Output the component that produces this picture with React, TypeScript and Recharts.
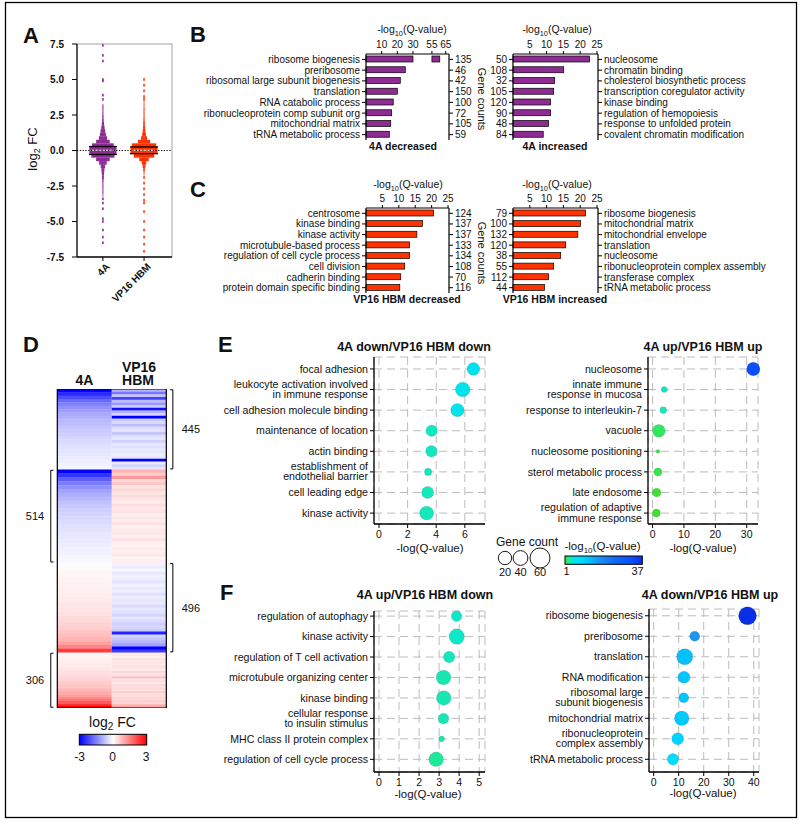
import React from 'react';
import {
  BarChart,
  Bar,
  XAxis,
  YAxis,
  ScatterChart,
  Scatter,
  CartesianGrid,
  ComposedChart,
  ReferenceArea,
  ReferenceLine,
} from 'recharts';

const FONT = '"Liberation Sans", Arial, Helvetica, sans-serif';
const PURPLE = '#8e2c93';
const RED = '#ff3300';

// ---- A: log2 FC distributions (violins as binned densities)
const violinGroups = ['4A', 'VP16 HBM'];
const violinFill = [PURPLE, RED];
const aTicks = [7.5, 5, 2.5, 0, -2.5, -5, -7.5];
const binCenters = [
  3.375, 3.125, 2.875, 2.625, 2.375, 2.125, 1.875, 1.625, 1.375, 1.125, 0.875, 0.625, 0.375, 0.125,
  -0.125, -0.375, -0.625, -0.875, -1.125, -1.375, -1.625, -1.875, -2.125, -2.375, -2.625, -2.875, -3.125, -3.375,
];
const density4A = [
  0, 0.04, 0.04, 0.04, 0.05, 0.06, 0.08, 0.12, 0.17, 0.22, 0.3, 0.5, 0.8, 1.0,
  1.0, 0.85, 0.5, 0.28, 0.16, 0.11, 0.08, 0.07, 0.05, 0.04, 0.04, 0.04, 0.03, 0,
];
const densityVP16 = [
  0.03, 0.03, 0.04, 0.04, 0.04, 0.05, 0.06, 0.07, 0.1, 0.14, 0.22, 0.45, 0.9, 1.0,
  1.0, 0.75, 0.35, 0.16, 0.1, 0.06, 0.03, 0, 0, 0, 0, 0, 0, 0,
];
const outliers4A = [7.4, 6.7, 6.3, 5.0, 4.9, 3.9, 3.6, -3.4, -3.7, -4.1, -4.8, -5.0, -5.6, -6.1, -6.5];
const outliersVP16 = [5.0, 4.6, 4.2, 3.8, 3.6, -1.9, -2.3, -2.7, -3.1, -3.5, -3.7, -4.3, -5.0, -5.6, -6.1, -6.6, -7.1];
const quartiles4A = [0.28, -0.28];
const quartilesVP16 = [0.25, -0.22];
const medians = [0.02, 0.02];

// ---- B / C: GO term bars
const qTicks25 = [5, 10, 15, 20, 25];
const qTicksBroken = [10, 20, 30, 55, 65];
const BREAK_LO = 30;
const BREAK_HI = 55;

const b4aDownTerms = [
  'ribosome biogenesis', 'preribosome', 'ribosomal large subunit biogenesis', 'translation',
  'RNA catabolic process', 'ribonucleoprotein comp subunit org', 'mitochondrial matrix', 'tRNA metabolic process',
];
const b4aDownQ = [60.7, 25.1, 21.9, 20.0, 17.4, 16.4, 15.8, 14.9];
const b4aDownCounts = [135, 46, 42, 150, 100, 72, 105, 59];

const b4aUpTerms = [
  'nucleosome', 'chromatin binding', 'cholesterol biosynthetic process', 'transcription coregulator activity',
  'kinase binding', 'regulation of hemopoiesis', 'response to unfolded protein', 'covalent chromatin modification',
];
const b4aUpQ = [22.8, 15.1, 12.4, 12.1, 11.2, 11.2, 10.6, 9.0];
const b4aUpCounts = [50, 108, 32, 105, 120, 90, 48, 84];

const cVpDownTerms = [
  'centrosome', 'kinase binding', 'kinase activity', 'microtubule-based process',
  'regulation of cell cycle process', 'cell division', 'cadherin binding', 'protein domain specific binding',
];
const cVpDownQ = [20.6, 17.2, 15.5, 13.3, 13.3, 11.8, 10.6, 10.3];
const cVpDownCounts = [124, 137, 137, 133, 134, 108, 70, 116];

const cVpUpTerms = [
  'ribosome biogenesis', 'mitochondrial matrix', 'mitochondrial envelope', 'translation',
  'nucleosome', 'ribonucleoprotein complex assembly', 'transferase complex', 'tRNA metabolic process',
];
const cVpUpQ = [21.6, 20.1, 19.3, 15.7, 14.2, 12.1, 10.6, 9.4];
const cVpUpCounts = [79, 100, 132, 120, 38, 55, 112, 44];

// ---- D: heatmap, binned per cluster
const sectionSizes = [445, 514, 496, 306];
const sectionSide = ['right', 'left', 'right', 'left'];
const heat4A = [
  [-3, -2.5, -2.1, -1.75, -1.5, -1.3, -1.15, -1.02, -0.92, -0.83, -0.75, -0.68, -0.62, -0.56, -0.5, -0.45, -0.4, -0.36, -0.32, -0.28, -0.24, -0.2, -0.16, -0.12],
  [-3, -2.4, -1.9, -1.55, -1.3, -1.1, -0.95, -0.83, -0.73, -0.65, -0.58, -0.52, -0.47, -0.42, -0.38, -0.34, -0.3, -0.27, -0.24, -0.21, -0.18, -0.15, -0.12, -0.09],
  [0.05, 0.07, 0.09, 0.11, 0.13, 0.15, 0.17, 0.19, 0.21, 0.24, 0.27, 0.3, 0.33, 0.37, 0.41, 0.46, 0.52, 0.59, 0.67, 0.77, 0.9, 1.1, 1.45, 2.3],
  [0.1, 0.13, 0.16, 0.19, 0.22, 0.25, 0.28, 0.32, 0.36, 0.4, 0.45, 0.5, 0.56, 0.62, 0.7, 0.78, 0.88, 1.0, 1.15, 1.35, 1.6, 1.95, 2.4, 3],
];
const heatVP16 = [
  [-0.9, -1.6, -0.7, -2.2, -0.8, -1.2, -0.6, -2.8, -0.9, -0.5, -3, -0.6, -0.45, -0.8, -0.4, -0.35, -0.7, -0.4, -0.3, -0.55, -0.3, -0.35, -0.25, -0.3, -0.2, -0.3, -3, -0.25, -0.5, -0.3],
  [0.9, 0.55, 1.2, 0.45, 0.7, 0.35, 0.5, 0.3, 0.45, 0.3, 0.25, 0.4, 0.25, 0.35, 0.2, 0.3, 0.2, 0.35, 0.18, 0.25, 0.3, 0.18, 0.35, 0.2, 0.15, 0.25, 0.18, 0.3, 0.12, 0.2],
  [-0.15, -0.22, -0.1, -0.28, -0.15, -0.22, -0.32, -0.15, -0.25, -0.2, -0.38, -0.2, -0.3, -0.25, -0.42, -0.3, -0.35, -0.5, -0.3, -0.42, -0.55, -0.45, -0.6, -2.6, -0.5, -0.7, -0.85, -1.1, -3, -2.3],
  [0.22, 0.32, 0.15, 0.38, 0.25, 0.32, 0.2, 0.42, 0.3, 0.25, 0.5, 0.3, 0.35, 0.8, 0.3, 0.42, 0.25, 0.48, 0.35, 0.5, 0.3, 0.62, 0.4, 0.35, 0.52, 0.45, 0.62, 0.5, 0.95, 1.3],
];

// ---- E / F: bubble plots
const eDownTerms = [
  'focal adhesion', 'leukocyte activation involved\nin immune response', 'cell adhesion molecule binding',
  'maintenance of location', 'actin binding', 'establishment of\nendothelial barrier', 'cell leading edge', 'kinase activity',
];
const eDownQ = [6.6, 5.85, 5.48, 3.68, 3.66, 3.43, 3.4, 3.33];
const eDownCounts = [33, 44, 37, 27, 27, 11, 30, 40];

const eUpTerms = [
  'nucleosome', 'innate immune\nresponse in mucosa', 'response to interleukin-7', 'vacuole',
  'nucleosome positioning', 'sterol metabolic process', 'late endosome', 'regulation of adaptive\nimmune response',
];
const eUpQ = [32.1, 3.7, 3.4, 2.0, 1.7, 1.7, 1.3, 1.2];
const eUpCounts = [37, 7, 9, 33, 3, 13, 15, 13];

const fUpDownTerms = [
  'regulation of autophagy', 'kinase activity', 'regulation of T cell activation', 'microtubule organizing center',
  'kinase binding', 'cellular response\nto insulin stimulus', 'MHC class II protein complex', 'regulation of cell cycle process',
];
const fUpDownQ = [3.87, 3.88, 3.5, 3.22, 3.23, 3.22, 3.12, 2.85];
const fUpDownCounts = [23, 49, 27, 44, 44, 23, 7, 44];

const fDownUpTerms = [
  'ribosome biogenesis', 'preribosome', 'translation', 'RNA modification', 'ribosomal large\nsubunit biogenesis',
  'mitochondrial matrix', 'ribonucleoprotein\ncomplex assembly', 'tRNA metabolic process',
];
const fDownUpQ = [37.5, 16.4, 12.4, 12.1, 12.0, 11.2, 9.6, 7.7];
const fDownUpCounts = [67, 21, 53, 30, 21, 44, 30, 27];

const legendCounts = [20, 40, 60];

// colour scale for -log10(Q)
const Q_STOPS: [number, string][] = [
  [1, '#44e01e'], [2, '#2ee860'], [3.3, '#16e8b8'], [5, '#00e6e6'], [8, '#00dcff'],
  [12, '#00c6ff'], [16, '#1a98f2'], [25, '#1464f6'], [32, '#0a50ff'], [37, '#0a2ee6'],
];

function hexToRgb(h: string) {
  return [1, 3, 5].map((i) => parseInt(h.slice(i, i + 2), 16));
}

function qColor(v: number) {
  if (v <= Q_STOPS[0][0]) return Q_STOPS[0][1];
  for (let i = 1; i < Q_STOPS.length; i++) {
    const [v1, c1] = Q_STOPS[i];
    const [v0, c0] = Q_STOPS[i - 1];
    if (v <= v1) {
      const t = (v - v0) / (v1 - v0);
      const a = hexToRgb(c0);
      const b = hexToRgb(c1);
      const m = a.map((x, k) => Math.round(x + (b[k] - x) * t));
      return `rgb(${m[0]},${m[1]},${m[2]})`;
    }
  }
  return Q_STOPS[Q_STOPS.length - 1][1];
}

function heatColor(v: number) {
  const t = Math.min(1, Math.abs(v) / 3);
  const c = Math.round(255 * (1 - t));
  return v < 0 ? `rgb(${c},${c},255)` : `rgb(255,${c},${c})`;
}

const bubbleR = (count: number) => Math.sqrt(count) * 1.1;

const breakAxis = (v: number) => (v <= BREAK_LO ? v : 42.1 + (v - BREAK_HI) * 0.88);
const identity = (v: number) => v;

function PlainTick(props: any) {
  const { x, y, payload, anchor = 'end', size = 10, dy = 3.5, bold = false, fmt } = props;
  const v = fmt ? fmt(payload.value) : payload.value;
  return (
    <text x={x} y={y} dy={dy} textAnchor={anchor} fontSize={size} fontWeight={bold ? 'bold' : 'normal'} fontFamily={FONT} fill="#111">
      {v}
    </text>
  );
}

function TermTick(props: any) {
  const { x, y, payload, terms, size } = props;
  const label = terms[payload.value] ?? '';
  const lines = String(label).split('\n');
  const first = lines.length === 1 ? size * 0.35 : -size * 0.15;
  return (
    <text x={x} y={y} textAnchor="end" fontSize={size} fontFamily={FONT} fill="#111">
      {lines.map((l, i) => (
        <tspan key={i} x={x} dy={i === 0 ? first : size * 0.95}>
          {l}
        </tspan>
      ))}
    </text>
  );
}

function PanelA() {
  const groups = [
    { d: density4A, out: outliers4A, q: quartiles4A },
    { d: densityVP16, out: outliersVP16, q: quartilesVP16 },
  ];
  const HALF = 0.33;
  const outlierPts = groups.flatMap((g, gi) => g.out.map((v) => ({ x: gi, y: v, gi })));
  const axis = { stroke: '#000', strokeWidth: 1.3 };
  return (
    <div style={{ position: 'absolute', left: 40, top: 38 }}>
      <ComposedChart width={136} height={269} margin={{ top: 6, right: 4, bottom: 0, left: 0 }}>
        <XAxis
          type="number"
          dataKey="x"
          domain={[-0.63, 1.68]}
          ticks={[0, 1]}
          interval={0}
          height={50}
          tickSize={4}
          axisLine={axis}
          tickLine={{ stroke: '#000' }}
          tick={(p: any) => (
            <text
              transform={`translate(${p.x + 5},${p.y + 2}) rotate(-45)`}
              textAnchor="end"
              dy="0.35em"
              fontSize={10}
              fontWeight="bold"
              fontFamily={FONT}
              fill="#111"
            >
              {violinGroups[p.payload.value]}
            </text>
          )}
        />
        <YAxis
          type="number"
          dataKey="y"
          domain={[-7.5, 7.5]}
          ticks={aTicks}
          interval={0}
          width={37}
          tickSize={5}
          tickMargin={8}
          axisLine={axis}
          tickLine={{ stroke: '#000' }}
          tick={(p: any) => (
            <PlainTick x={p.x} y={p.y} payload={p.payload} anchor="end" size={10} bold fmt={(v: number) => v.toFixed(1)} />
          )}
        />
        <ReferenceLine y={7.5} stroke="#a0a0a0" />
        <ReferenceLine x={1.68} stroke="#a0a0a0" />
        <ReferenceLine y={0} stroke="#000" strokeDasharray="1.2 1.6" />
        {groups.flatMap((g, gi) =>
          binCenters.map((c, bi) =>
            g.d[bi] > 0 ? (
              <ReferenceArea
                key={`v${gi}-${bi}`}
                x1={gi - g.d[bi] * HALF}
                x2={gi + g.d[bi] * HALF}
                y1={c - 0.13}
                y2={c + 0.13}
                fill={violinFill[gi]}
                fillOpacity={1}
                stroke="none"
              />
            ) : null,
          ),
        )}
        <Scatter
          data={outlierPts}
          isAnimationActive={false}
          shape={(p: any) => (
            <rect x={p.cx - 0.8} y={p.cy - 1.3} width={1.6} height={2.6} fill={violinFill[p.payload.gi]} />
          )}
        />
        {groups.flatMap((g, gi) =>
          g.q.map((v, k) => (
            <ReferenceLine
              key={`q${gi}-${k}`}
              segment={[{ x: gi - 0.34, y: v }, { x: gi + 0.34, y: v }]}
              stroke="#000"
              strokeWidth={1.3}
            />
          )),
        )}
        {medians.map((m, gi) => (
          <ReferenceLine
            key={`m${gi}`}
            segment={[{ x: gi - 0.26, y: m }, { x: gi + 0.26, y: m }]}
            stroke="#fff"
            strokeWidth={1}
            strokeDasharray="2 1.5"
          />
        ))}
      </ComposedChart>
    </div>
  );
}

function GoBars(props: any) {
  const { x, y, terms, q, counts, fill, termsLeft, plotH, xMax, ticks, toAxis } = props;
  const termW = termsLeft ? 180 : 195;
  const countW = termsLeft ? 32 : 30;
  const plotW = termsLeft ? 83 : 85;
  const rows = terms.map((t: string, i: number) => ({ term: t, count: counts[i], raw: q[i], value: toAxis(q[i]) }));
  const axisTicks = ticks.map(toAxis);
  const line = { stroke: '#000', strokeWidth: 1.2 };
  const catTick = (anchor: string) => (p: any) => (
    <PlainTick x={p.x} y={p.y} payload={p.payload} anchor={anchor} size={10} dy={3.5} />
  );
  const barShape = (p: any) => {
    const { x: bx, y: by, width, height, payload } = p;
    const broken = toAxis(BREAK_HI) !== BREAK_HI && payload.raw > BREAK_LO;
    if (!broken) {
      return <rect x={bx} y={by} width={width} height={height} fill={fill} stroke="#000" strokeWidth={0.7} />;
    }
    const ppu = width / payload.value;
    const w1 = BREAK_LO * ppu;
    const x2 = bx + toAxis(BREAK_HI) * ppu;
    return (
      <g>
        <rect x={bx} y={by} width={w1} height={height} fill={fill} stroke="#000" strokeWidth={0.7} />
        <rect x={x2} y={by} width={bx + width - x2} height={height} fill={fill} stroke="#000" strokeWidth={0.7} />
      </g>
    );
  };
  return (
    <div style={{ position: 'absolute', left: x, top: y }}>
      <BarChart
        layout="vertical"
        width={termW + plotW + countW}
        height={24 + plotH}
        data={rows}
        margin={{ top: 0, right: 0, bottom: 0, left: 0 }}
      >
        <XAxis
          type="number"
          orientation="top"
          domain={[0, xMax]}
          ticks={axisTicks}
          interval={0}
          height={24}
          tickSize={3}
          axisLine={line}
          tickLine={{ stroke: '#000' }}
          tick={(p: any) => (
            <PlainTick
              x={p.x}
              y={p.y}
              payload={p.payload}
              anchor="middle"
              size={10}
              dy={-1}
              fmt={(v: number) => ticks[axisTicks.indexOf(v)] ?? v}
            />
          )}
        />
        <YAxis
          yAxisId="L"
          type="category"
          dataKey={termsLeft ? 'term' : 'count'}
          orientation="left"
          width={termsLeft ? termW : countW}
          interval={0}
          tickSize={4}
          axisLine={line}
          tickLine={{ stroke: '#000' }}
          tick={catTick('end')}
        />
        <YAxis
          yAxisId="R"
          type="category"
          dataKey={termsLeft ? 'count' : 'term'}
          orientation="right"
          width={termsLeft ? countW : termW}
          interval={0}
          tickSize={4}
          axisLine={line}
          tickLine={{ stroke: '#000' }}
          tick={catTick('start')}
        />
        <Bar yAxisId="L" dataKey="value" fill={fill} barSize={6} isAnimationActive={false} shape={barShape} />
      </BarChart>
    </div>
  );
}

function PanelD() {
  const total = sectionSizes.reduce((a, b) => a + b, 0);
  const starts = sectionSizes.map((_, i) => sectionSizes.slice(0, i).reduce((a, b) => a + b, 0));
  const cells: React.ReactNode[] = [];
  [heat4A, heatVP16].forEach((col, ci) =>
    col.forEach((bins, si) =>
      bins.forEach((v, k) => {
        const n = sectionSizes[si];
        const s = starts[si];
        cells.push(
          <ReferenceArea
            key={`h${ci}-${si}-${k}`}
            x1={ci}
            x2={ci + 1}
            y1={s + (k * n) / bins.length}
            y2={Math.min(total, s + ((k + 1) * n) / bins.length + 2)}
            fill={heatColor(v)}
            fillOpacity={1}
            stroke="none"
          />,
        );
      }),
    ),
  );
  const brackets: React.ReactNode[] = [];
  sectionSizes.forEach((n, i) => {
    const right = sectionSide[i] === 'right';
    const xv = right ? 2.12 : -0.12;
    const tip = right ? 2.07 : -0.07;
    const y0 = starts[i] + 4;
    const y1 = starts[i] + n - 4;
    const seg = [
      [{ x: xv, y: y0 }, { x: xv, y: y1 }],
      [{ x: xv, y: y0 }, { x: tip, y: y0 }],
      [{ x: xv, y: y1 }, { x: tip, y: y1 }],
    ];
    seg.forEach((s, k) =>
      brackets.push(<ReferenceLine key={`b${i}-${k}`} segment={s as any} stroke="#000" strokeWidth={1} ifOverflow="visible" />),
    );
  });
  const labelPts = sectionSizes.map((n, i) => ({
    x: sectionSide[i] === 'right' ? 2.45 : -0.41,
    y: starts[i] + n / 2,
    label: n,
  }));
  return (
    <div style={{ position: 'absolute', left: 19, top: 389 }}>
      <ComposedChart width={200} height={319} margin={{ top: 0, right: 0, bottom: 0, left: 0 }}>
        <XAxis type="number" dataKey="x" domain={[-0.703, 2.967]} hide />
        <YAxis type="number" dataKey="y" domain={[0, total]} reversed hide />
        {cells}
        <ReferenceArea x1={0} x2={2} y1={0} y2={total} fill="none" fillOpacity={0} stroke="#000" strokeWidth={1.2} />
        {brackets}
        <Scatter
          data={labelPts}
          isAnimationActive={false}
          shape={(p: any) => (
            <text x={p.cx} y={p.cy} dy={4} textAnchor="middle" fontSize={11} fontFamily={FONT} fill="#111">
              {p.payload.label}
            </text>
          )}
        />
      </ComposedChart>
    </div>
  );
}

function GoBubbles(props: any) {
  const { x, y, terms, q, counts, yAxisW, plotW, plotH, xDomain, xTicks, yDomain } = props;
  const data = terms.map((t: string, i: number) => ({ row: i, q: q[i], count: counts[i] }));
  const line = { stroke: '#000', strokeWidth: 1.3 };
  return (
    <div style={{ position: 'absolute', left: x, top: y }}>
      <ScatterChart width={yAxisW + plotW + 8} height={5 + plotH + 25} margin={{ top: 5, right: 8, bottom: 0, left: 0 }}>
        <CartesianGrid strokeDasharray="8 5" stroke="#bcbcbc" />
        <XAxis
          type="number"
          dataKey="q"
          domain={xDomain}
          ticks={xTicks}
          interval={0}
          height={25}
          tickSize={4}
          axisLine={line}
          tickLine={{ stroke: '#000' }}
          tick={(p: any) => <PlainTick x={p.x} y={p.y} payload={p.payload} anchor="middle" size={10.5} dy={7.5} />}
        />
        <YAxis
          type="number"
          dataKey="row"
          domain={yDomain}
          reversed
          ticks={[0, 1, 2, 3, 4, 5, 6, 7]}
          interval={0}
          width={yAxisW}
          tickSize={4}
          axisLine={line}
          tickLine={{ stroke: '#000' }}
          tick={(p: any) => <TermTick x={p.x} y={p.y} payload={p.payload} terms={terms} size={10.6} />}
        />
        <Scatter
          data={data}
          isAnimationActive={false}
          shape={(p: any) => (
            <circle
              cx={p.cx}
              cy={p.cy}
              r={bubbleR(p.payload.count)}
              fill={qColor(p.payload.q)}
              stroke="rgba(0,0,0,0.18)"
              strokeWidth={0.6}
            />
          )}
        />
      </ScatterChart>
    </div>
  );
}

function T(props: any) {
  const { x, y, s = 10, b = false, a = 'middle', children, rot } = props;
  return (
    <text
      x={x}
      y={y}
      fontSize={s}
      fontWeight={b ? 'bold' : 'normal'}
      textAnchor={a}
      fontFamily={FONT}
      fill="#111"
      transform={rot ? `rotate(${rot} ${x} ${y})` : undefined}
    >
      {children}
    </text>
  );
}

function QTitle({ x, y, s = 10.5 }: any) {
  return (
    <T x={x} y={y} s={s}>
      -log<tspan fontSize={s * 0.7} dy={2.5}>10</tspan>
      <tspan dy={-2.5}>(Q-value)</tspan>
    </T>
  );
}

function Overlay() {
  const legendR = [6.7, 7.4, 10];
  const legendX = [505, 520.5, 540];
  return (
    <svg width={803} height={824} style={{ position: 'absolute', left: 0, top: 0, pointerEvents: 'none' }}>
      <defs>
        <linearGradient id="heatGrad" x1="0" y1="0" x2="1" y2="0">
          <stop offset="0%" stopColor="#0000ff" />
          <stop offset="50%" stopColor="#ffffff" />
          <stop offset="100%" stopColor="#ff0000" />
        </linearGradient>
        <linearGradient id="qGrad" x1="0" y1="0" x2="1" y2="0">
          {Q_STOPS.map(([v, c]) => (
            <stop key={v} offset={`${((v - 1) / 36) * 100}%`} stopColor={c} />
          ))}
        </linearGradient>
      </defs>
      <rect x={5.5} y={2.5} width={791} height={815} fill="none" stroke="#000" strokeWidth={1.3} />

      {/* panel letters */}
      <T x={23} y={43} s={22} b a="start">A</T>
      <T x={190} y={42} s={22} b a="start">B</T>
      <T x={190} y={197} s={22} b a="start">C</T>
      <T x={23} y={352} s={22} b a="start">D</T>
      <T x={218} y={352} s={22} b a="start">E</T>
      <T x={220} y={600} s={22} b a="start">F</T>

      {/* A */}
      <text transform="translate(37,149) rotate(-90)" textAnchor="middle" fontSize={13} fontFamily={FONT} fill="#111">
        log<tspan fontSize={9} dy={3}>2</tspan>
        <tspan dy={-3}> FC</tspan>
      </text>

      {/* B / C */}
      <QTitle x={412} y={33} />
      <QTitle x={557} y={33} />
      <QTitle x={408} y={188} />
      <QTitle x={557} y={188} />
      <T x={403} y={150} s={10.5} b>4A decreased</T>
      <T x={555} y={150} s={10.5} b>4A increased</T>
      <T x={407} y={303} s={10.5} b>VP16 HBM decreased</T>
      <T x={555} y={303} s={10.5} b>VP16 HBM increased</T>
      <T x={478} y={99} s={11} rot={90}>Gene counts</T>
      <T x={478} y={253} s={11} rot={90}>Gene counts</T>

      {/* D */}
      <T x={84.5} y={385} s={14} b>4A</T>
      <T x={139} y={371.5} s={14} b>VP16</T>
      <T x={138} y={385} s={14} b>HBM</T>
      <T x={112.5} y={727} s={14}>
        log<tspan fontSize={10} dy={3}>2</tspan>
        <tspan dy={-3}> FC</tspan>
      </T>
      <rect x={79.3} y={734.3} width={67.4} height={10.7} fill="url(#heatGrad)" stroke="#000" strokeWidth={1} />
      <T x={79.5} y={760.5} s={12}>-3</T>
      <T x={112.5} y={760.5} s={12}>0</T>
      <T x={146} y={760.5} s={12}>3</T>

      {/* E / F titles */}
      <T x={414} y={351} s={12.5} b>4A down/VP16 HBM down</T>
      <T x={703} y={351} s={12.5} b>4A up/VP16 HBM up</T>
      <T x={425} y={599} s={12.5} b>4A up/VP16 HBM down</T>
      <T x={710} y={599} s={12.5} b>4A down/VP16 HBM up</T>
      <T x={430} y={552} s={11.5}>-log(Q-value)</T>
      <T x={703} y={552} s={11.5}>-log(Q-value)</T>
      <T x={428} y={798} s={11.5}>-log(Q-value)</T>
      <T x={703} y={797} s={11.5}>-log(Q-value)</T>

      {/* legend */}
      <T x={527} y={546} s={12}>Gene count</T>
      {legendCounts.map((c, i) => (
        <g key={c}>
          <circle cx={legendX[i]} cy={558} r={legendR[i]} fill="none" stroke="#000" strokeWidth={0.9} />
          <T x={legendX[i]} y={575.5} s={11}>{c}</T>
        </g>
      ))}
      <QTitle x={602.5} y={550} s={11.5} />
      <rect x={565} y={556} width={77.3} height={8.3} fill="url(#qGrad)" stroke="#000" strokeWidth={1} />
      <T x={566.5} y={575} s={11}>{Q_STOPS[0][0]}</T>
      <T x={637.5} y={575} s={11}>{Q_STOPS[Q_STOPS.length - 1][0]}</T>
    </svg>
  );
}

export default function App() {
  return (
    <div
      style={{
        position: 'absolute',
        left: 0,
        top: 0,
        width: 803,
        height: 824,
        background: '#fff',
        fontFamily: FONT,
        overflow: 'hidden',
      }}
    >
      <PanelA />
      <GoBars x={186} y={30} terms={b4aDownTerms} q={b4aDownQ} counts={b4aDownCounts} fill={PURPLE} termsLeft plotH={86} xMax={53} ticks={qTicksBroken} toAxis={breakAxis} />
      <GoBars x={483} y={30} terms={b4aUpTerms} q={b4aUpQ} counts={b4aUpCounts} fill={PURPLE} termsLeft={false} plotH={86} xMax={25.3} ticks={qTicks25} toAxis={identity} />
      <GoBars x={186} y={184} terms={cVpDownTerms} q={cVpDownQ} counts={cVpDownCounts} fill={RED} termsLeft plotH={85} xMax={25.3} ticks={qTicks25} toAxis={identity} />
      <GoBars x={483} y={184} terms={cVpUpTerms} q={cVpUpQ} counts={cVpUpCounts} fill={RED} termsLeft={false} plotH={85} xMax={25.3} ticks={qTicks25} toAxis={identity} />
      <PanelD />
      <GoBubbles x={215} y={352} terms={eDownTerms} q={eDownQ} counts={eDownCounts} yAxisW={159} plotW={111} plotH={167} xDomain={[-0.35, 7.41]} xTicks={[0, 2, 4, 6]} yDomain={[-0.58, 7.53]} />
      <GoBubbles x={517} y={352} terms={eUpTerms} q={eUpQ} counts={eUpCounts} yAxisW={131} plotW={110} plotH={167} xDomain={[-1.46, 33.6]} xTicks={[0, 10, 20, 30]} yDomain={[-0.58, 7.53]} />
      <GoBubbles x={215} y={606} terms={fUpDownTerms} q={fUpDownQ} counts={fUpDownCounts} yAxisW={159} plotW={111} plotH={161} xDomain={[-0.25, 5.29]} xTicks={[0, 1, 2, 3, 4, 5]} yDomain={[-0.25, 7.62]} />
      <GoBubbles x={519} y={604} terms={fDownUpTerms} q={fDownUpQ} counts={fDownUpCounts} yAxisW={130} plotW={110} plotH={163} xDomain={[-1.88, 42.1]} xTicks={[0, 10, 20, 30, 40]} yDomain={[-0.33, 7.62]} />
      <Overlay />
    </div>
  );
}
